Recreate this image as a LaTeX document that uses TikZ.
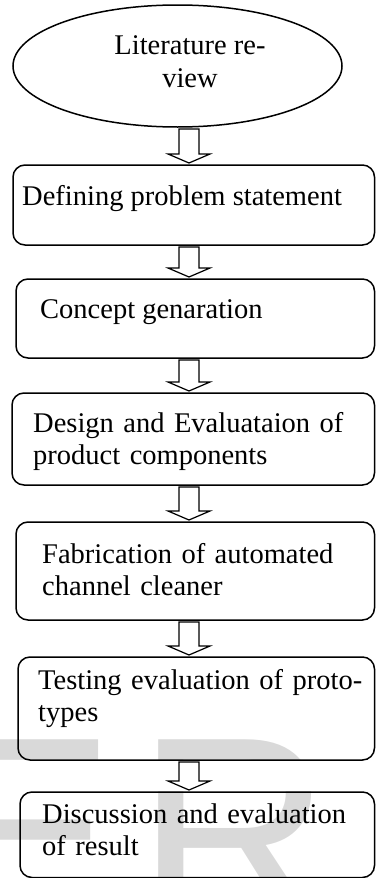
\documentclass[tikz,border=0pt]{standalone}
\usepackage{fontspec}
\setmainfont{Liberation Serif}
\newfontfamily\markfont{Liberation Sans}
\usepackage{xcolor}
\usetikzlibrary{shapes.geometric,calc}

\newcommand{\stepfont}{\fontsize{28.5}{32.5}\selectfont}
\newcommand{\fullline}[1]{\makebox[\linewidth][s]{#1}}
% hollow block arrow between two steps
\newcommand{\blockarrow}[2]{%
  \draw[blockarrow] let \p1=(#1.south -| axis), \p2=(#2.north -| axis) in
    (\x1-10pt,\y1-2pt) -- (\x1-10pt,\y2+11pt) -- (\x1-21pt,\y2+11pt) -- (\x1,\y2+2pt)
    -- (\x1+21pt,\y2+11pt) -- (\x1+10pt,\y2+11pt) -- (\x1+10pt,\y1-2pt) -- cycle;}

\tikzset{
  stepbox/.style={draw, rounded corners=12pt, line width=1.5pt, inner sep=0pt, outer sep=0pt},
  steptext/.style={anchor=base west, inner sep=0pt, align=left, font=\stepfont},
  blockarrow/.style={fill=white, line width=1.2pt, line join=miter},
  watermark/.style={anchor=base west, inner sep=0pt, text=black!15,
    font=\markfont\fontsize{270}{270}\selectfont},
}

\begin{document}
\begin{tikzpicture}[x=1pt, y=-1pt]
    \useasboundingbox (0,0) rectangle (376,878);
    \clip (0,0) rectangle (376,878);

    % faint letters in the background
    \node[watermark] (markE) at (-65,925) {E};
    \node[watermark] (markR) at (136,925) {R};
    \fill[white] (105,761) rectangle (376,791);

    \coordinate (axis) at (189,0);

    % start
    \node[ellipse, draw, line width=1.5pt, inner sep=0pt, outer sep=0pt,
          minimum width=329pt, minimum height=122pt] (lit) at (177.5,66) {};
    \node[steptext, anchor=base, align=center] (lit-t) at (190,87) {Literature re-\\view};

    % steps
    \node[stepbox, minimum width=361.5pt, minimum height=80pt] (define) at (193.75,205) {};
    \node[stepbox, minimum width=358.5pt, minimum height=79pt] (concept) at (195.25,318.5) {};
    \node[stepbox, minimum width=362.5pt, minimum height=92pt] (design) at (193.25,439) {};
    \node[stepbox, minimum width=358.5pt, minimum height=98pt] (fab) at (195.25,571) {};
    \node[stepbox, minimum width=356.5pt, minimum height=103pt] (test) at (196.25,708.5) {};
    \node[stepbox, minimum width=354.5pt, minimum height=85.5pt] (disc) at (197.25,834.75) {};

    \node[steptext] (define-t) at (22,205) {Defining problem statement};
    \node[steptext] (concept-t) at (40,318) {Concept genaration};
    \node[steptext, text width=329pt] (design-t) at (33,432)
        {\fullline{Design and Evaluataion of}\\product components};
    \node[steptext, text width=320pt] (fab-t) at (42,563)
        {\fullline{Fabrication of automated}\\channel cleaner};
    \node[steptext, text width=324pt] (test-t) at (38,689)
        {\fullline{Testing evaluation of proto-}\\types};
    \node[steptext, text width=321pt] (disc-t) at (42,823)
        {\fullline{Discussion and evaluation}\\of result};

    % arrows
    \blockarrow{lit}{define}
    \blockarrow{define}{concept}
    \blockarrow{concept}{design}
    \blockarrow{design}{fab}
    \blockarrow{fab}{test}
    \blockarrow{test}{disc}
\end{tikzpicture}
\end{document}
